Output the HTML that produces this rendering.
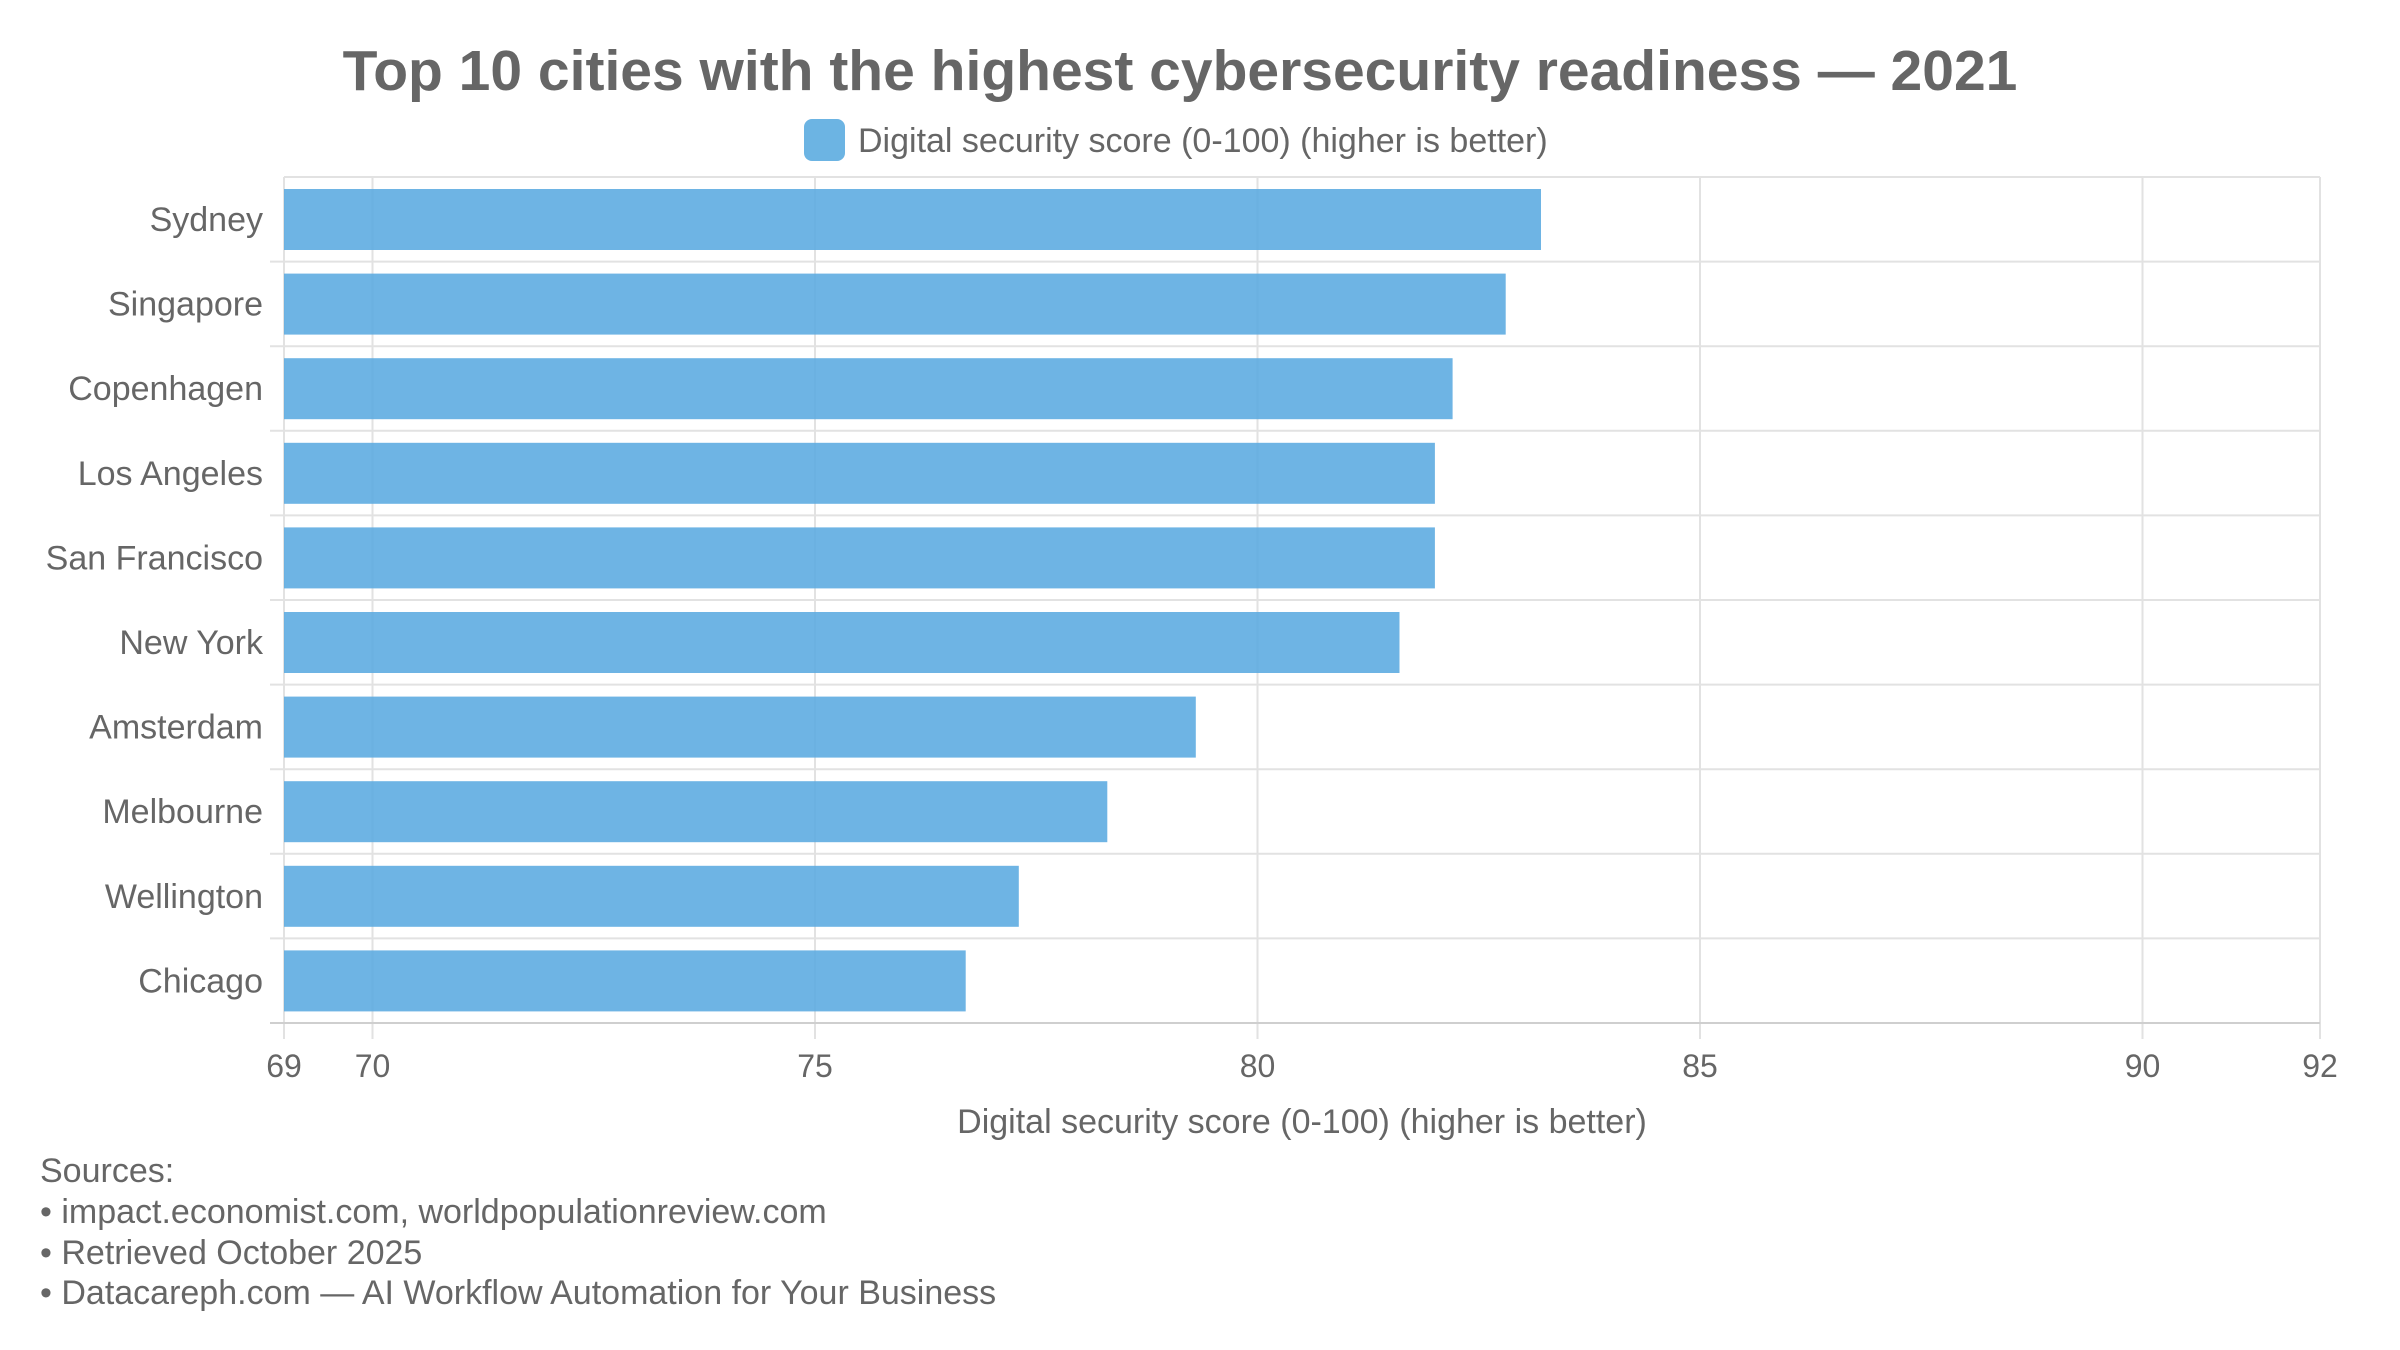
<!DOCTYPE html>
<html><head><meta charset="utf-8"><style>
html,body{margin:0;padding:0;background:#fff;}
svg{display:block;font-family:"Liberation Sans",sans-serif;}
</style></head><body>
<svg width="2400" height="1350" viewBox="0 0 2400 1350" xmlns="http://www.w3.org/2000/svg">
<rect width="2400" height="1350" fill="#fff"/>
<text x="1180" y="90" text-anchor="middle" font-size="57" font-weight="bold" fill="#666">Top 10 cities with the highest cybersecurity readiness — 2021</text>
<rect x="804" y="119" width="41" height="42" rx="8" fill="#6cb4e3"/>
<text x="858" y="152" font-size="34" fill="#666">Digital security score (0-100) (higher is better)</text>
<g stroke="#e2e2e2" stroke-width="2">
<line x1="284" y1="177" x2="2320" y2="177"/>
<line x1="270" y1="261.6" x2="2320" y2="261.6"/>
<line x1="270" y1="346.2" x2="2320" y2="346.2"/>
<line x1="270" y1="430.8" x2="2320" y2="430.8"/>
<line x1="270" y1="515.4" x2="2320" y2="515.4"/>
<line x1="270" y1="600" x2="2320" y2="600"/>
<line x1="270" y1="684.6" x2="2320" y2="684.6"/>
<line x1="270" y1="769.2" x2="2320" y2="769.2"/>
<line x1="270" y1="853.8" x2="2320" y2="853.8"/>
<line x1="270" y1="938.4" x2="2320" y2="938.4"/>
<line x1="284" y1="177" x2="284" y2="1039"/>
<line x1="372.5" y1="177" x2="372.5" y2="1039"/>
<line x1="815" y1="177" x2="815" y2="1039"/>
<line x1="1257.5" y1="177" x2="1257.5" y2="1039"/>
<line x1="1700" y1="177" x2="1700" y2="1039"/>
<line x1="2142.5" y1="177" x2="2142.5" y2="1039"/>
<line x1="2320" y1="177" x2="2320" y2="1039"/>
</g>
<line x1="270" y1="1023" x2="2320" y2="1023" stroke="#cfcfcf" stroke-width="2"/>
<g fill="#5aaae0" fill-opacity="0.88">
<rect x="284" y="189" width="1257" height="61"/>
<rect x="284" y="273.6" width="1221.7" height="61"/>
<rect x="284" y="358.2" width="1168.6" height="61"/>
<rect x="284" y="442.8" width="1150.9" height="61"/>
<rect x="284" y="527.4" width="1150.9" height="61"/>
<rect x="284" y="612" width="1115.5" height="61"/>
<rect x="284" y="696.6" width="911.8" height="61"/>
<rect x="284" y="781.2" width="823.3" height="61"/>
<rect x="284" y="865.8" width="734.8" height="61"/>
<rect x="284" y="950.4" width="681.7" height="61"/>
</g>
<g font-size="34" fill="#666" text-anchor="end">
<text x="263" y="231">Sydney</text>
<text x="263" y="315.6">Singapore</text>
<text x="263" y="400.2">Copenhagen</text>
<text x="263" y="484.8">Los Angeles</text>
<text x="263" y="569.4">San Francisco</text>
<text x="263" y="654">New York</text>
<text x="263" y="738.6">Amsterdam</text>
<text x="263" y="823.2">Melbourne</text>
<text x="263" y="907.8">Wellington</text>
<text x="263" y="992.4">Chicago</text>
</g>
<g font-size="32" fill="#666" text-anchor="middle">
<text x="284" y="1077">69</text>
<text x="372.5" y="1077">70</text>
<text x="815" y="1077">75</text>
<text x="1257.5" y="1077">80</text>
<text x="1700" y="1077">85</text>
<text x="2142.5" y="1077">90</text>
<text x="2320" y="1077">92</text>
</g>
<text x="1302" y="1133" font-size="34" fill="#666" text-anchor="middle">Digital security score (0-100) (higher is better)</text>
<g font-size="34" fill="#666">
<text x="40" y="1182">Sources:</text>
<text x="40" y="1223">• impact.economist.com, worldpopulationreview.com</text>
<text x="40" y="1264">• Retrieved October 2025</text>
<text x="40" y="1304">• Datacareph.com — AI Workflow Automation for Your Business</text>
</g>
</svg>
</body></html>
